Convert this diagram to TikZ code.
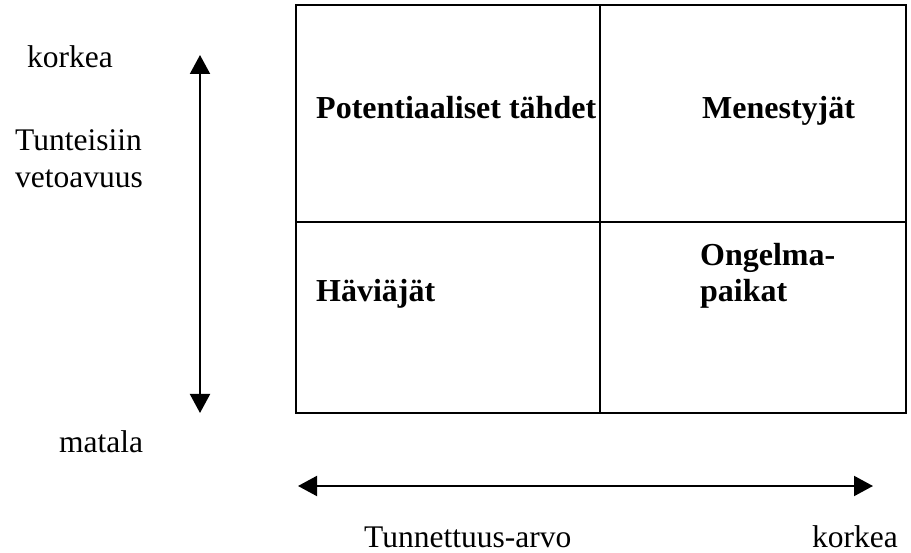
\documentclass[tikz,border=0pt]{standalone}
\usepackage{fontspec}
\setmainfont{Liberation Serif}
\usetikzlibrary{arrows.meta}
\begin{document}
\begin{tikzpicture}[x=1pt,y=-1pt,
  lbl/.style={font=\fontsize{31.5}{37}\selectfont, inner sep=0pt, anchor=base west, align=left},
  cell/.style={font=\bfseries\fontsize{32}{36}\selectfont, inner sep=0pt, anchor=base west, align=left},
  grid/.style={line width=2pt},
  axis/.style={line width=2pt, {Triangle[length=19pt,width=20pt]}-{Triangle[length=19pt,width=20pt]}}]
\useasboundingbox (0,0) rectangle (911,553);
% matrix frame
\coordinate (tl) at (296,5);
\coordinate (br) at (906,413);
\coordinate (tm) at (600,5);
\coordinate (bm) at (600,413);
\coordinate (ml) at (296,222);
\coordinate (mr) at (906,222);
\draw[grid] (tl) rectangle (br);
\draw[grid] (tm) -- (bm);
\draw[grid] (ml) -- (mr);
% quadrant labels
\node[cell] (pt) at (316,119) {Potentiaaliset tähdet};
\node[cell] (me) at (702,119) {Menestyjät};
\node[cell] (hv) at (316,302) {Häviäjät};
\node[cell] (og) at (700,302) {Ongelma-\\paikat};
% axes
\coordinate (vt) at (200,55);
\coordinate (vb) at (200,413);
\draw[axis] (vt) -- (vb);
\coordinate (hl) at (298,486);
\coordinate (hr) at (873,486);
\draw[axis] (hl) -- (hr);
% axis labels
\node[lbl] (k1) at (27,68) {korkea};
\node[lbl] (tv) at (15,188) {Tunteisiin\\vetoavuus};
\node[lbl] (ma) at (59,453) {matala};
\node[lbl] (ta) at (364,547) {Tunnettuus-arvo};
\node[lbl] (k2) at (812,547) {korkea};
\end{tikzpicture}
\end{document}
